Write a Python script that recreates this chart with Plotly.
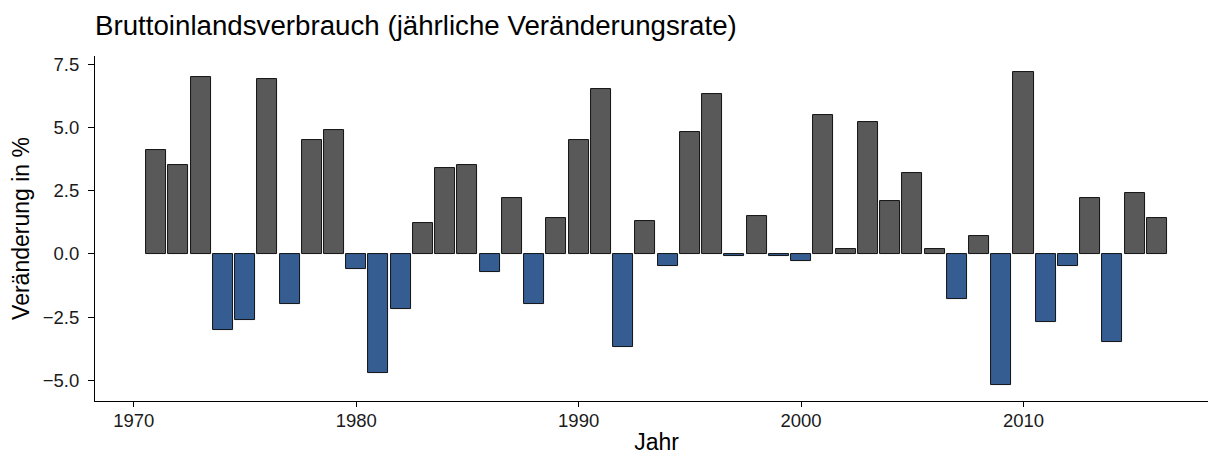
import plotly.graph_objects as go

years = list(range(1971, 2017))
changes = [4.1, 3.5, 7.0, -3.0, -2.6, 6.9, -2.0, 4.5, 4.9, -0.6,
           -4.7, -2.2, 1.2, 3.4, 3.5, -0.7, 2.2, -2.0, 1.4, 4.5,
           6.5, -3.7, 1.3, -0.5, 4.8, 6.3, -0.1, 1.5, -0.1, -0.3,
           5.5, 0.2, 5.2, 2.1, 3.2, 0.2, -1.8, 0.7, -5.2, 7.2,
           -2.7, -0.5, 2.2, -3.5, 2.4, 1.4]

x_ticks = [1970, 1980, 1990, 2000, 2010]
y_ticks = [-5.0, -2.5, 0.0, 2.5, 5.0, 7.5]
y_ticklabels = ["−5.0", "−2.5", "0.0", "2.5", "5.0", "7.5"]

POS_COLOR = "#595959"
NEG_COLOR = "#365d91"
colors = [POS_COLOR if v >= 0 else NEG_COLOR for v in changes]

fig = go.Figure(go.Bar(
    x=years, y=changes, width=0.9,
    marker=dict(color=colors, line=dict(color="black", width=0.9)),
    showlegend=False,
))

# the page body adds an 8px offset; figure size/margins compensate for it
W, H = 1210, 447
font = "Liberation Sans, Arial, sans-serif"
fig.update_layout(
    width=W, height=H,
    margin=dict(l=86.5, r=0, t=48, b=54),
    paper_bgcolor="white", plot_bgcolor="white",
    font=dict(family=font, color="black"),
    title=dict(text="Bruttoinlandsverbrauch (jährliche Veränderungsrate)",
               x=87 / W, xanchor="left", xref="container",
               y=1 - 17.5 / H, yanchor="middle", yref="container",
               font=dict(size=27.7, color="black", family=font)),
    bargap=0,
)
fig.update_xaxes(
    range=[1968.255, 2018.745], tickvals=x_ticks,
    showline=True, linecolor="black", linewidth=1.2,
    ticks="outside", ticklen=5, tickwidth=1.1, tickcolor="black",
    tickfont=dict(size=18.5, color="#1a1a1a"), ticklabelstandoff=-2,
    showgrid=False, zeroline=False, automargin=False,
    title=dict(text="Jahr", font=dict(size=23), standoff=6),
)
fig.update_yaxes(
    range=[-5.82, 7.82], tickvals=y_ticks, ticktext=y_ticklabels,
    showline=True, linecolor="black", linewidth=1.2,
    ticks="outside", ticklen=6, tickwidth=1.1, tickcolor="black",
    tickfont=dict(size=18.5, color="#1a1a1a"), ticklabelstandoff=5,
    showgrid=False, zeroline=False, automargin=False,
    title=dict(text="Veränderung in %", font=dict(size=23), standoff=6),
)

fig.write_html("out.html",
               post_script="document.body.style.overflow='hidden';")
